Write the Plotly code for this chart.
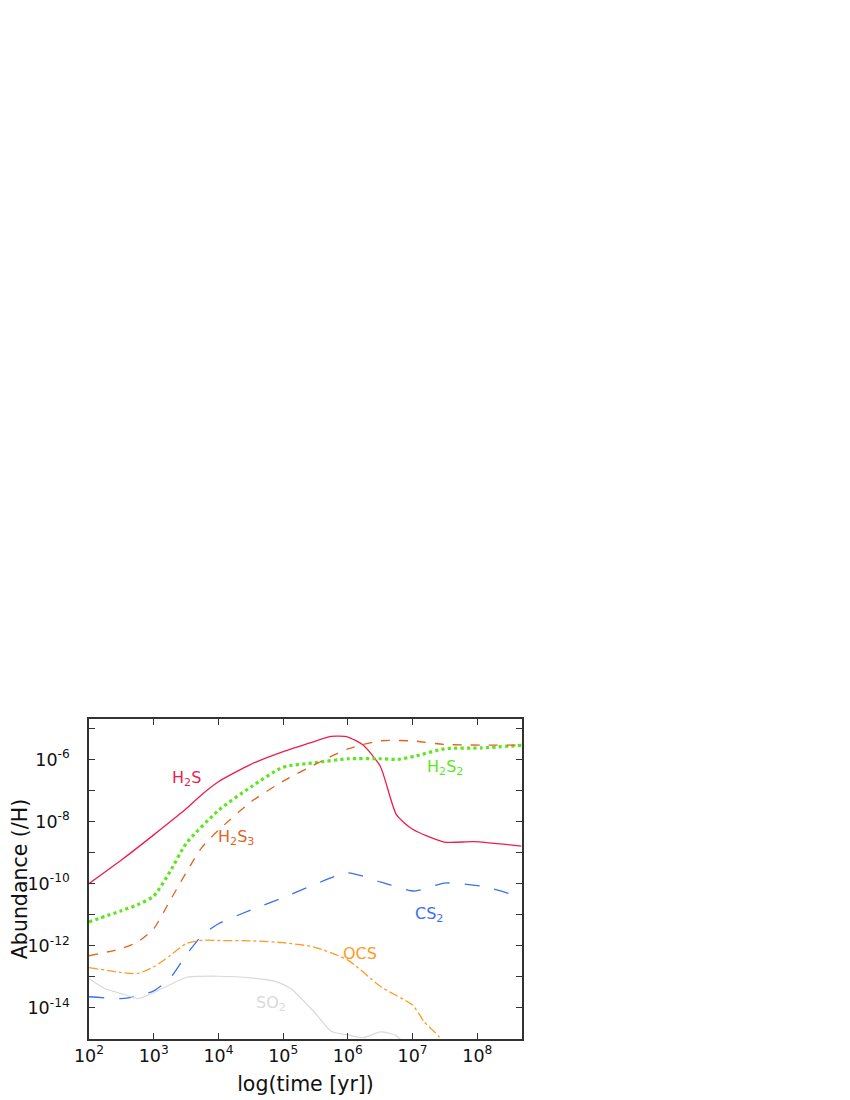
import plotly.graph_objects as go

# log10(time [yr]) and log10(abundance)
h2s_t = [2.0, 2.5, 3.0, 3.5, 3.75, 4.0, 4.5, 5.0, 5.4, 5.74, 6.0, 6.23, 6.5, 6.75, 7.0, 7.49, 7.95, 8.68]
h2s_a = [-10.0, -9.24, -8.43, -7.59, -7.12, -6.72, -6.16, -5.75, -5.48, -5.26, -5.28, -5.53, -6.22, -7.78, -8.25, -8.66, -8.65, -8.79]

h2s2_t = [2.0, 2.5, 2.75, 3.0, 3.25, 3.5, 4.0, 4.5, 5.0, 5.48, 6.0, 6.51, 6.77, 7.03, 7.49, 8.06, 8.68]
h2s2_a = [-11.23, -10.87, -10.68, -10.4, -9.62, -8.71, -7.64, -6.89, -6.25, -6.11, -5.98, -5.98, -6.0, -5.9, -5.66, -5.63, -5.55]

h2s3_t = [2.0, 2.5, 2.75, 3.0, 3.24, 3.32, 3.73, 4.0, 4.5, 5.0, 5.59, 6.0, 6.51, 7.03, 7.49, 8.68]
h2s3_a = [-12.32, -12.09, -11.88, -11.45, -10.59, -10.3, -8.87, -8.28, -7.37, -6.7, -6.06, -5.66, -5.4, -5.41, -5.52, -5.54]

cs2_t = [2.0, 2.5, 2.75, 3.0, 3.25, 3.5, 3.75, 4.0, 4.5, 5.0, 5.48, 6.0, 6.51, 7.03, 7.49, 8.06, 8.68]
cs2_a = [-13.64, -13.7, -13.62, -13.45, -13.05, -12.3, -11.66, -11.29, -10.85, -10.45, -10.03, -9.65, -9.95, -10.24, -9.98, -10.08, -10.43]

ocs_t = [2.0, 2.5, 2.75, 3.0, 3.25, 3.5, 3.75, 4.0, 4.5, 5.0, 5.48, 6.0, 6.51, 7.0, 7.18, 7.41, 7.5]
ocs_a = [-12.7, -12.86, -12.89, -12.68, -12.32, -11.93, -11.82, -11.83, -11.84, -11.9, -12.04, -12.46, -13.32, -13.91, -14.45, -14.93, -15.3]

so2_t = [2.0, 2.25, 2.5, 2.75, 3.0, 3.5, 4.0, 4.5, 4.9, 5.12, 5.48, 5.74, 6.0, 6.23, 6.51, 6.75, 6.93]
so2_a = [-13.05, -13.38, -13.54, -13.7, -13.51, -13.02, -12.98, -13.03, -13.16, -13.38, -14.13, -14.75, -14.87, -14.96, -14.77, -14.9, -15.3]

x_ticks = [2, 3, 4, 5, 6, 7, 8]
y_ticks = [-15, -14, -13, -12, -11, -10, -9, -8, -7, -6, -5]

FONT = "DejaVu Sans"

# name, t, a, colour, dash, width, label log-t, label log-a
series = [
    ("H<sub>2</sub>S", h2s_t, h2s_a, "#ec1d4c", "solid", 1.3, 3.5, -6.6),
    ("H<sub>2</sub>S<sub>2</sub>", h2s2_t, h2s2_a, "#5ee61c", "dot", 3.2, 7.5, -6.25),
    ("H<sub>2</sub>S<sub>3</sub>", h2s3_t, h2s3_a, "#e2621f", "dash", 1.3, 4.27, -8.5),
    ("CS<sub>2</sub>", cs2_t, cs2_a, "#3a6ff0", "longdash", 1.3, 7.25, -11.0),
    ("OCS", ocs_t, ocs_a, "#ff9a24", "dashdot", 1.3, 6.19, -12.25),
    ("SO<sub>2</sub>", so2_t, so2_a, "#d9d9d9", "solid", 1.2, 4.81, -13.85),
]

fig = go.Figure()
for name, t, a, col, dash, w, lx, ly in series:
    fig.add_trace(go.Scatter(
        x=[10 ** v for v in t], y=[10 ** v for v in a], mode="lines", name=name,
        line=dict(color=col, dash=dash, width=w, shape="spline", smoothing=0.6),
        showlegend=False))
    fig.add_annotation(x=lx, y=ly, xref="x", yref="y", text=name, showarrow=False,
                       font=dict(family=FONT, size=16, color=col))

axis_common = dict(
    showgrid=False, zeroline=False, showline=True, linecolor="#333333", linewidth=1.5,
    mirror="ticks", ticks="inside", ticklen=6, tickwidth=1.2, tickcolor="#333333",
    tickfont=dict(family=FONT, size=17.5, color="#111111"), automargin=False,
)

fig.update_xaxes(type="log", range=[2, 8.69],
                 tickvals=[10 ** v for v in x_ticks],
                 ticktext=[f"10<sup>{v}</sup>" for v in x_ticks],
                 title=dict(text="log(time [yr])", font=dict(family=FONT, size=20.5, color="#111111"), standoff=12),
                 **axis_common)
fig.update_yaxes(type="log", range=[-15, -4.7],
                 tickvals=[10 ** v for v in y_ticks],
                 ticktext=[f"10<sup>{v}</sup>" if v % 2 == 0 else "" for v in y_ticks],
                 ticklabelstandoff=14,
                 title=dict(text="Abundance (/H)", font=dict(family=FONT, size=20.5, color="#111111"), standoff=19),
                 **axis_common)

fig.update_layout(
    width=850, height=1100,
    margin=dict(l=81, r=336, t=711, b=69),
    plot_bgcolor="white", paper_bgcolor="white",
    showlegend=False,
)

fig.write_html("out.html")
